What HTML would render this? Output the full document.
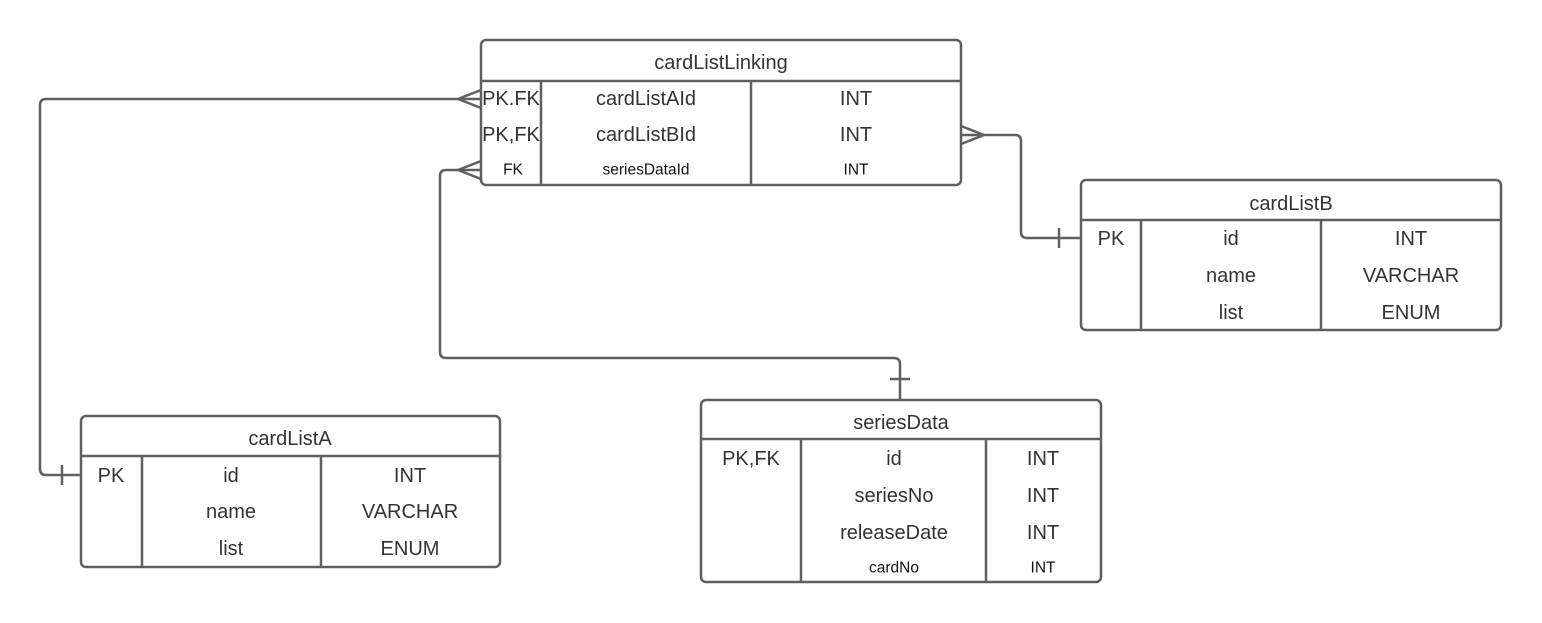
<!DOCTYPE html>
<html><head><meta charset="utf-8"><style>
html,body{margin:0;padding:0;background:#fff;}
svg{display:block}
text{font-family:"Liberation Sans",Arial,sans-serif;fill:#333;text-anchor:middle;dominant-baseline:central}
.s{font-size:15.5px;fill:#111}
</style></head><body>
<svg width="1542" height="623" viewBox="0 0 1542 623" xmlns="http://www.w3.org/2000/svg">
<g fill="none" stroke="#5f5f5f" stroke-width="2.5">
<path d="M481 99 H46 Q40 99 40 105 V469 Q40 475 46 475 H81"/>
<path d="M458 99 L481 90 M458 99 L481 108"/>
<path d="M62 465 V485"/>
<path d="M961 135 H1015 Q1021 135 1021 141 V232 Q1021 238 1027 238 H1081"/>
<path d="M984 135 L961 126 M984 135 L961 144"/>
<path d="M1059 228 V248"/>
<path d="M481 170 H446 Q440 170 440 176 V352 Q440 358 446 358 H894 Q900 358 900 364 V400"/>
<path d="M458 170 L481 161 M458 170 L481 179"/>
<path d="M890 379 H910"/>
<rect x="481" y="40" width="480" height="145" rx="5"/>
<path d="M481 81 H961 M541 81 V185 M751 81 V185"/>
<rect x="1081" y="180" width="420" height="150" rx="5"/>
<path d="M1081 220 H1501 M1141 220 V330 M1321 220 V330"/>
<rect x="81" y="416" width="419" height="151" rx="5"/>
<path d="M81 456 H500 M142 456 V567 M321 456 V567"/>
<rect x="701" y="400" width="400" height="182" rx="5"/>
<path d="M701 439 H1101 M801 439 V582 M986 439 V582"/>
</g>
<g font-size="20">
<text x="721" y="63">cardListLinking</text>
<text x="511" y="99">PK.FK</text><text x="646" y="99">cardListAId</text><text x="856" y="99">INT</text>
<text x="511" y="135">PK,FK</text><text x="646" y="135">cardListBId</text><text x="856" y="135">INT</text>
<text x="513" y="170" class="s">FK</text><text x="646" y="170" class="s">seriesDataId</text><text x="856" y="170" class="s">INT</text>

<text x="1291" y="204">cardListB</text>
<text x="1111" y="239">PK</text><text x="1231" y="239">id</text><text x="1411" y="239">INT</text>
<text x="1231" y="276">name</text><text x="1411" y="276">VARCHAR</text>
<text x="1231" y="313">list</text><text x="1411" y="313">ENUM</text>

<text x="290" y="439">cardListA</text>
<text x="111" y="476">PK</text><text x="231" y="476">id</text><text x="410" y="476">INT</text>
<text x="231" y="512">name</text><text x="410" y="512">VARCHAR</text>
<text x="231" y="549">list</text><text x="410" y="549">ENUM</text>

<text x="901" y="423">seriesData</text>
<text x="751" y="459">PK,FK</text><text x="894" y="459">id</text><text x="1043" y="459">INT</text>
<text x="894" y="496">seriesNo</text><text x="1043" y="496">INT</text>
<text x="894" y="533">releaseDate</text><text x="1043" y="533">INT</text>
<text x="894" y="568" class="s">cardNo</text><text x="1043" y="568" class="s">INT</text>
</g>
</svg>
</body></html>
